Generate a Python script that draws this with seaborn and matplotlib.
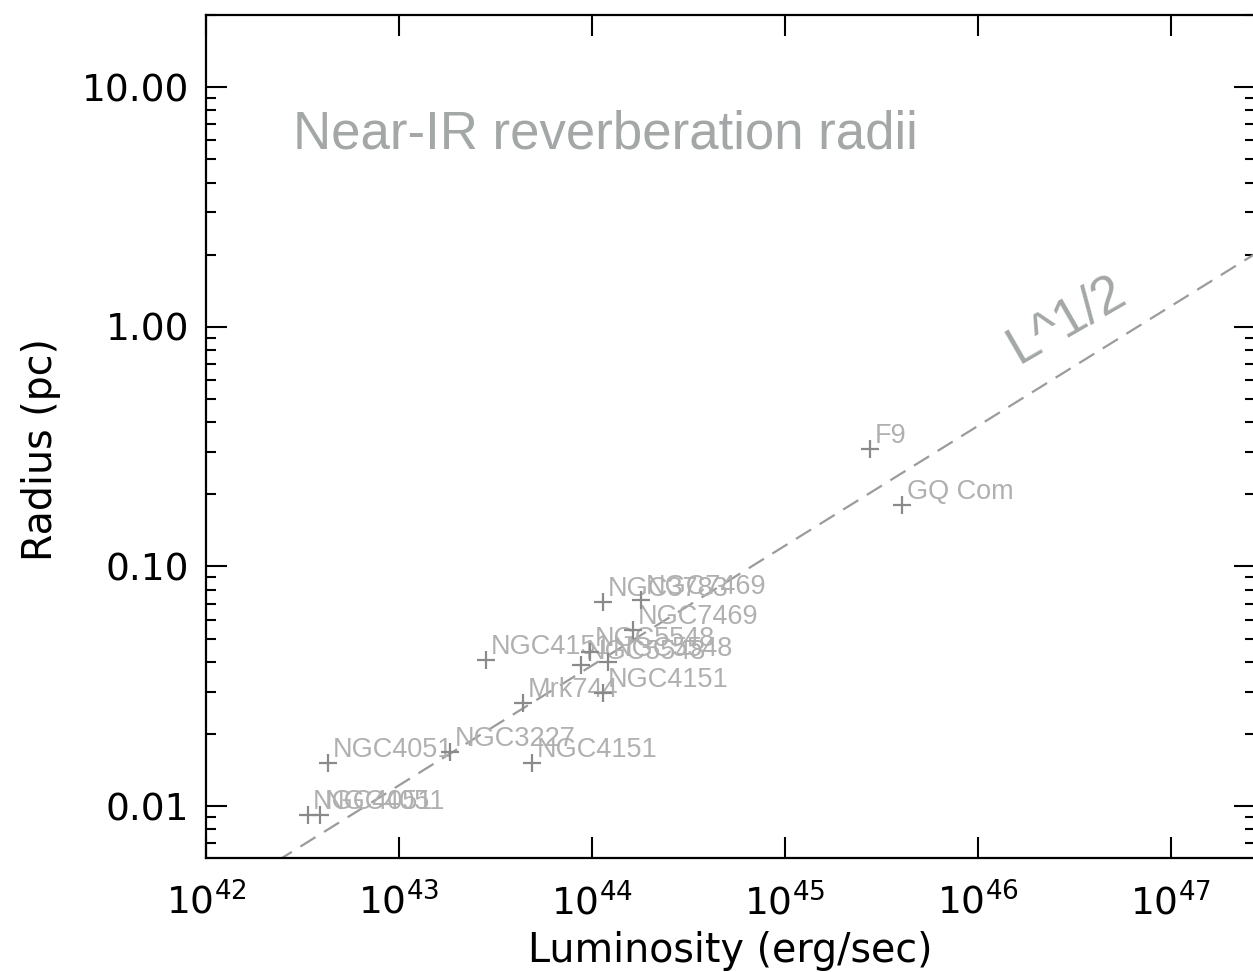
import numpy as np
import pandas as pd
import matplotlib
matplotlib.use("Agg")
import matplotlib.pyplot as plt
import seaborn as sns
from matplotlib.ticker import FixedLocator, FixedFormatter, LogLocator, NullLocator

# Near-IR dust reverberation radii
names = ["NGC4051", "NGC4051", "NGC4051", "NGC3227", "NGC4151", "Mrk744",
         "NGC4151", "NGC4151", "NGC5548", "NGC5548", "NGC5548", "NGC7469",
         "NGC3783", "NGC7469", "F9", "GQ Com"]
luminosity = [3.38e42, 3.90e42, 4.29e42, 1.84e43, 4.89e43, 4.39e43,
              1.14e44, 2.82e43, 9.76e43, 8.77e43, 1.21e44, 1.63e44,
              1.14e44, 1.79e44, 2.76e45, 4.04e45]
radius = [0.00918, 0.00918, 0.0151, 0.0168, 0.0151, 0.0269,
          0.0296, 0.0407, 0.0439, 0.0388, 0.0399, 0.0543,
          0.0710, 0.0724, 0.309, 0.180]

# R proportional to L^1/2, normalised at L = 1e44 erg/s
r_at_1e44 = 0.0386
line_lum = np.logspace(42, 48, 200)

x_ticks = [1e42, 1e43, 1e44, 1e45, 1e46, 1e47]
x_ticklabels = [r"$10^{42}$", r"$10^{43}$", r"$10^{44}$", r"$10^{45}$",
                r"$10^{46}$", r"$10^{47}$"]
y_ticks = [0.01, 0.1, 1.0, 10.0]
y_ticklabels = ["0.01", "0.10", "1.00", "10.00"]

df = pd.DataFrame({"L": luminosity, "R": radius, "name": names})
line_df = pd.DataFrame({"L": line_lum, "R": r_at_1e44 * (line_lum / 1e44) ** 0.5})

sns.set_theme(style="ticks")
plt.rcParams["font.family"] = ["DejaVu Sans"]
plt.rcParams["mathtext.fontset"] = "dejavusans"

W, H = 1253, 972
fig = plt.figure(figsize=(W / 100, H / 100), dpi=100)
ax = fig.add_axes([206 / W, 114 / H, (1255 - 206) / W, 843 / H])

sns.lineplot(data=line_df, x="L", y="R", ax=ax, color="#9b9b9b",
             linewidth=1.6, dashes=False, legend=False)
ax.lines[-1].set_dashes((8, 4.5))

sns.scatterplot(data=df, x="L", y="R", ax=ax, marker="+", s=150,
                color="#8a8a8a", linewidth=1.6, legend=False, zorder=3)

for _, row in df.iterrows():
    ax.annotate(row["name"], (row["L"], row["R"]), xytext=(5, 6),
                textcoords="offset pixels", ha="left", va="baseline",
                fontsize=19.5, color="#b0b0b0", family="Liberation Sans",
                zorder=2)

ax.set_xscale("log")
ax.set_yscale("log")
ax.set_xlim(1e42, 10 ** 47.435)
ax.set_ylim(10 ** -2.2166, 20.0)

ax.xaxis.set_major_locator(FixedLocator(x_ticks))
ax.xaxis.set_major_formatter(FixedFormatter(x_ticklabels))
ax.xaxis.set_minor_locator(NullLocator())
ax.yaxis.set_major_locator(FixedLocator(y_ticks))
ax.yaxis.set_major_formatter(FixedFormatter(y_ticklabels))
ax.yaxis.set_minor_locator(LogLocator(base=10, subs=np.arange(2, 10)))

ax.tick_params(which="both", direction="in", top=True, right=True,
               colors="black", width=1.5)
ax.tick_params(which="major", length=15)
ax.tick_params(which="minor", length=7)
ax.tick_params(axis="y", which="major", labelsize=27, pad=12)
ax.tick_params(axis="x", which="major", labelsize=27, pad=18)

for side in ["left", "bottom", "top", "right"]:
    ax.spines[side].set_linewidth(1.6)
    ax.spines[side].set_color("black")

ax.set_xlabel("Luminosity (erg/sec)", fontsize=28.5, color="black")
ax.set_ylabel("Radius (pc)", fontsize=28.5, color="black")
ax.xaxis.set_label_coords(0.5, -0.087)
ax.yaxis.set_label_coords(-0.138, 0.484)

ax.text(0.083, 0.842, "Near-IR reverberation radii", transform=ax.transAxes,
        ha="left", va="baseline", fontsize=38, color="#a4a7a7",
        family="Liberation Sans")
ax.text(0.774, 0.587, "L^1/2", transform=ax.transAxes, ha="left",
        va="baseline", rotation=30, rotation_mode="anchor", fontsize=38,
        color="#a4a7a7", family="Liberation Sans")

fig.savefig("out.png", dpi=100)
